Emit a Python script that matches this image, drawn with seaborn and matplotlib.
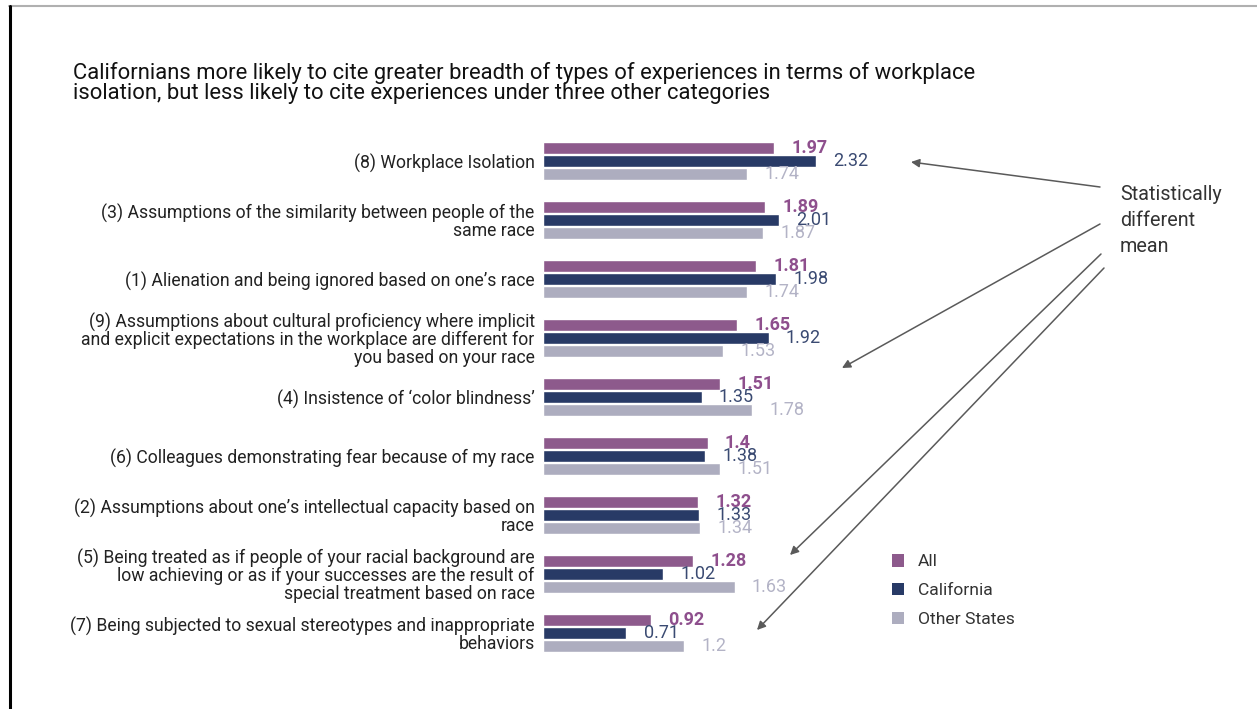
import numpy as np
import pandas as pd
import matplotlib
matplotlib.use("Agg")
import matplotlib.pyplot as plt
from matplotlib.lines import Line2D
from matplotlib.patches import Patch, FancyArrowPatch
import seaborn as sns

categories = [
    "(8) Workplace Isolation",
    "(3) Assumptions of the similarity between people of the\nsame race",
    "(1) Alienation and being ignored based on one\u2019s race",
    "(9) Assumptions about cultural proficiency where implicit\nand explicit expectations in the workplace are different for\nyou based on your race",
    "(4) Insistence of \u2018color blindness\u2019",
    "(6) Colleagues demonstrating fear because of my race",
    "(2) Assumptions about one\u2019s intellectual capacity based on\nrace",
    "(5) Being treated as if people of your racial background are\nlow achieving or as if your successes are the result of\nspecial treatment based on race",
    "(7) Being subjected to sexual stereotypes and inappropriate\nbehaviors",
]
all_vals = [1.97, 1.89, 1.81, 1.65, 1.51, 1.4, 1.32, 1.28, 0.92]
ca_vals = [2.32, 2.01, 1.98, 1.92, 1.35, 1.38, 1.33, 1.02, 0.71]
other_vals = [1.74, 1.87, 1.74, 1.53, 1.78, 1.51, 1.34, 1.63, 1.2]
groups = ["All", "California", "Other States"]
value_labels = {
    "All": ["1.97", "1.89", "1.81", "1.65", "1.51", "1.4", "1.32", "1.28", "0.92"],
    "California": ["2.32", "2.01", "1.98", "1.92", "1.35", "1.38", "1.33", "1.02", "0.71"],
    "Other States": ["1.74", "1.87", "1.74", "1.53", "1.78", "1.51", "1.34", "1.63", "1.2"],
}

title_lines = [
    "Californians more likely to cite greater breadth of types of experiences in terms of workplace",
    "isolation, but less likely to cite experiences under three other categories",
]
note_lines = ["Statistically", "different", "mean"]

bar_colors = {"All": "#8d5a8c", "California": "#283a66", "Other States": "#adadbf"}
text_colors = {"All": "#8e4f8d", "California": "#3a4a72", "Other States": "#b3b3c6"}

df = pd.DataFrame({
    "category": categories * 3,
    "group": [g for g in groups for _ in categories],
    "value": all_vals + ca_vals + other_vals,
})

sns.set_theme(style="white")
plt.rcParams["font.family"] = ["Roboto", "DejaVu Sans"]

W, H = 1257, 709
fig = plt.figure(figsize=(W / 100, H / 100), dpi=100)
fig.patch.set_facecolor("white")


def fx(px):
    return px / W


def fy(py):
    return 1 - py / H


# axes placed in pixel geometry: bars start at x=543, rows every 59 px
x0, x1 = 543, 1093
y_top, y_bot = 131.5, 662.5
ax = fig.add_axes([fx(x0), fy(y_bot), fx(x1) - fx(x0), fy(y_top) - fy(y_bot)])

sns.barplot(data=df, y="category", x="value", hue="group", hue_order=groups,
            order=categories, orient="h", palette=bar_colors, width=0.66, gap=0.1,
            saturation=1, ax=ax, legend=False)

px_per_unit = 117.5
ax.set_xlim(0, (x1 - x0) / px_per_unit)
ax.set_ylim(len(categories) - 0.5, -0.5)
ax.set_xlabel("")
ax.set_ylabel("")
ax.set_xticks([])
for s in ax.spines.values():
    s.set_visible(False)
ax.tick_params(axis="y", length=0, pad=6)
ax.set_yticks(range(len(categories)))
ax.set_yticklabels(categories, fontsize=12.7, color="#222222", ha="right", linespacing=0.98)

# value labels next to each bar
for cont, g in zip(ax.containers, groups):
    for rect, lab in zip(cont.patches, value_labels[g]):
        yc = rect.get_y() + rect.get_height() / 2
        ax.annotate(lab, xy=(rect.get_width(), yc), xytext=(12.5, 0),
                    textcoords="offset points", va="center", ha="left",
                    fontsize=13, color=text_colors[g],
                    fontweight="bold" if g == "All" else "normal")

for line, py in zip(title_lines, [72.5, 93.5]):
    fig.text(fx(73), fy(py), line, fontsize=15.8, color="#111111", va="center", ha="left")

# legend
handles = [Patch(facecolor=bar_colors[g], edgecolor="none") for g in groups]
fig.legend(handles, groups, loc="upper left", bbox_to_anchor=(fx(883), fy(545.5)),
           frameon=False, fontsize=12.6, handlelength=0.7, handleheight=0.7,
           handletextpad=0.78, labelspacing=0.78, borderpad=0, labelcolor="#333333")

for line, py in zip(note_lines, [195, 220.5, 246]):
    fig.text(fx(1120), fy(py), line, fontsize=14.2, color="#333333", va="center", ha="left")

arrows = [((1100, 187), (911, 162)),
          ((1100, 224), (842, 368)),
          ((1101, 254), (790, 555)),
          ((1104, 268), (757, 630))]
for (sx, sy), (ex, ey) in arrows:
    fig.add_artist(FancyArrowPatch(
        (fx(sx), fy(sy)), (fx(ex), fy(ey)), transform=fig.transFigure,
        arrowstyle="-|>,head_length=5,head_width=2.5", color="#5a5a5a", lw=1.1,
        shrinkA=0, shrinkB=0))

# page frame
fig.add_artist(Line2D([fx(9), 1], [fy(6), fy(6)], transform=fig.transFigure,
                      color="#b0b0b0", lw=1.5))
fig.add_artist(Line2D([fx(9.5), fx(9.5)], [fy(6), 0], transform=fig.transFigure,
                      color="black", lw=2.2))

fig.savefig("out.png", dpi=100, facecolor="white")
